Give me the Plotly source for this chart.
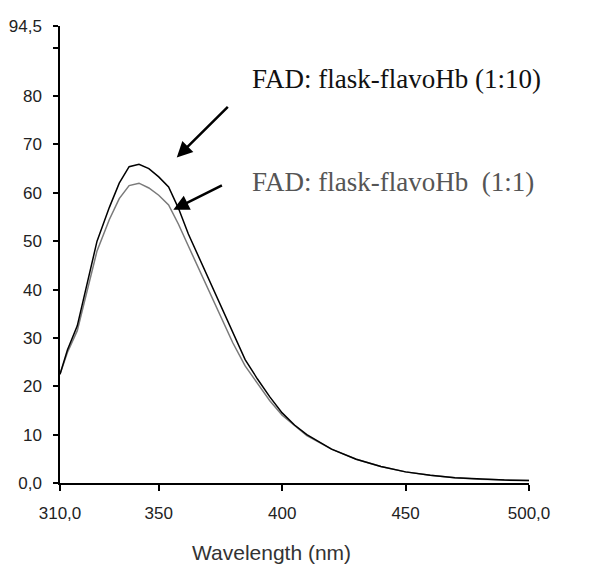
import plotly.graph_objects as go

wavelength = [310, 313, 317, 321, 325, 330, 334, 338, 342, 346, 350, 354, 358, 362,
              366, 370, 375, 380, 385, 390, 395, 400, 405, 410, 420, 430, 440, 450,
              460, 470, 480, 490, 500]
fad_1_10 = [22.5, 27.5, 32.5, 41.5, 50.0, 57.0, 62.0, 65.4, 65.9, 65.0, 63.3, 61.2, 56.8, 51.5,
            47.0, 42.5, 36.5, 31.0, 25.5, 21.5, 17.8, 14.5, 12.0, 10.0, 7.0, 4.9, 3.4, 2.3,
            1.6, 1.1, 0.8, 0.6, 0.5]
fad_1_1 = [22.5, 27.0, 31.5, 40.0, 48.0, 54.5, 58.8, 61.5, 62.0, 61.0, 59.5, 57.5, 53.5, 49.0,
           44.5, 40.0, 34.5, 29.0, 24.2, 20.5, 17.0, 14.0, 11.8, 9.8, 7.0, 4.9, 3.4, 2.3,
           1.6, 1.1, 0.8, 0.6, 0.5]

x_tickvals = [310, 350, 400, 450, 500]
x_ticktext = ["310,0", "350", "400", "450", "500,0"]
y_tickvals = [0, 10, 20, 30, 40, 50, 60, 70, 80, 90, 94.5]
y_ticktext = ["0,0", "10", "20", "30", "40", "50", "60", "70", "80", "", "94,5"]

label_1_10 = "FAD: flask-flavoHb (1:10)"
label_1_1 = "FAD: flask-flavoHb\u00a0 (1:1)"

fig = go.Figure()
fig.add_trace(go.Scatter(x=wavelength, y=fad_1_1, mode="lines",
                         line=dict(color="#7a7a7a", width=1.5), showlegend=False))
fig.add_trace(go.Scatter(x=wavelength, y=fad_1_10, mode="lines",
                         line=dict(color="#000000", width=1.5), showlegend=False))

tick_font = dict(family="Liberation Sans, Arial, sans-serif", size=17, color="#222222")

fig.update_layout(
    width=600, height=572,
    margin=dict(l=52, r=79, t=18, b=97, autoexpand=False),
    paper_bgcolor="white", plot_bgcolor="white",
    xaxis=dict(range=[310, 500], tickvals=x_tickvals, ticktext=x_ticktext,
               showline=True, linecolor="black", linewidth=1.5,
               ticks="outside", ticklen=6, tickwidth=1.5, tickcolor="black",
               showgrid=False, zeroline=False, tickfont=tick_font,
               ticklabelstandoff=8, automargin=False),
    yaxis=dict(range=[0, 94.5], tickvals=y_tickvals, ticktext=y_ticktext,
               showline=True, linecolor="black", linewidth=1.5,
               ticks="outside", ticklen=5, tickwidth=1.5, tickcolor="black",
               showgrid=False, zeroline=False, tickfont=tick_font,
               ticklabelstandoff=8, automargin=False),
)

serif = "Liberation Serif, Times New Roman, serif"
fig.add_annotation(x=387, y=83.5, xref="x", yref="y", text=label_1_10,
                   showarrow=False, xanchor="left", yanchor="middle",
                   font=dict(family=serif, size=27, color="#111111"))
fig.add_annotation(x=387, y=62.2, xref="x", yref="y", text=label_1_1,
                   showarrow=False, xanchor="left", yanchor="middle",
                   font=dict(family=serif, size=27, color="#555555"))

fig.add_annotation(x=357.3, y=67.3, ax=378.6, ay=78.1, xref="x", yref="y",
                   axref="x", ayref="y", text="", showarrow=True,
                   arrowhead=2, arrowsize=1.25, arrowwidth=2.5, arrowcolor="black")
fig.add_annotation(x=355.9, y=56.5, ax=376.2, ay=61.7, xref="x", yref="y",
                   axref="x", ayref="y", text="", showarrow=True,
                   arrowhead=2, arrowsize=1.25, arrowwidth=2.5, arrowcolor="black")

fig.add_annotation(x=0.45, y=-0.153, xref="paper", yref="paper",
                   text="Wavelength (nm)", showarrow=False,
                   xanchor="center", yanchor="middle",
                   font=dict(family="Liberation Sans, Arial, sans-serif", size=21, color="#333333"))

fig.write_html("out.html")
